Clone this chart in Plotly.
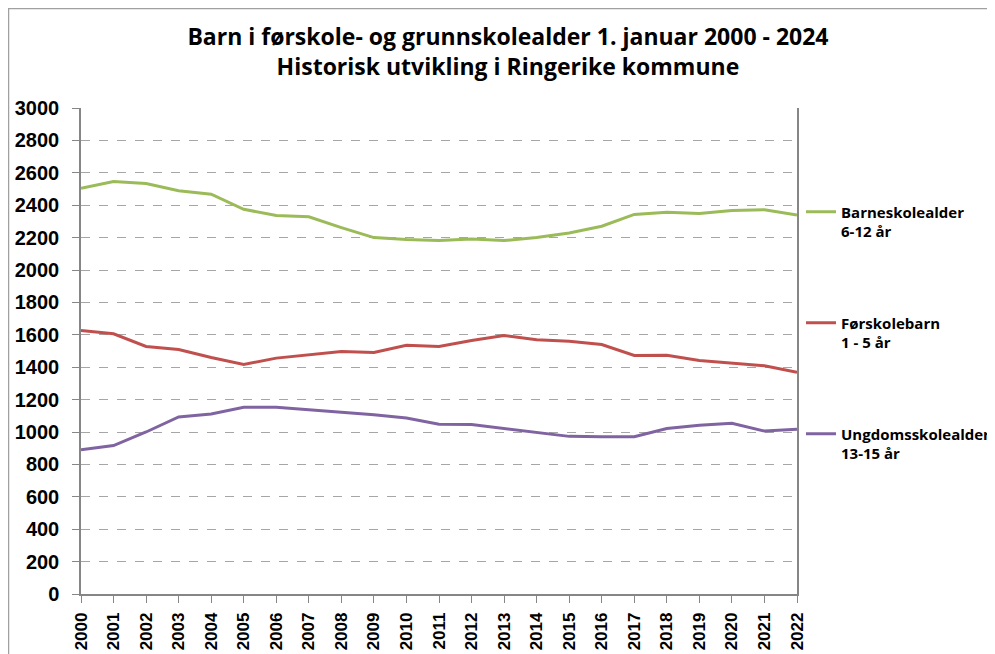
import plotly.graph_objects as go

years = list(range(2000, 2023))

barneskole = [2505, 2546, 2534, 2489, 2468, 2375, 2336, 2328, 2262, 2200, 2188, 2182,
              2192, 2182, 2200, 2229, 2270, 2343, 2357, 2349, 2367, 2372, 2339]
forskole = [1627, 1606, 1528, 1509, 1460, 1417, 1456, 1476, 1497, 1491, 1536, 1528,
            1565, 1596, 1569, 1560, 1540, 1472, 1474, 1441, 1425, 1409, 1369]
ungdomsskole = [891, 916, 1000, 1093, 1111, 1153, 1153, 1138, 1120, 1107, 1087, 1048,
                1046, 1021, 996, 973, 971, 971, 1021, 1041, 1054, 1006, 1017]

series = [
    ("Barneskolealder<br>6-12 år", barneskole, "#9BBB59"),
    ("Førskolebarn<br>1 - 5 år", forskole, "#C0504D"),
    ("Ungdomsskolealder<br>13-15 år", ungdomsskole, "#8064A2"),
]

title_font = "Open Sans"
tick_font = "Liberation Sans"

fig = go.Figure()
for i, (name, vals, color) in enumerate(series):
    fig.add_trace(go.Scatter(
        x=years, y=vals, name=name, mode="lines",
        line=dict(color=color, width=3),
        legendgroup=f"g{i}",
    ))

# page body has an 8px margin; the figure is a bit wider than the window
# so the legend has room and does not squeeze the plot area
fig.update_layout(
    width=1010, height=646,
    margin=dict(l=73, r=221, t=100, b=60),
    paper_bgcolor="white", plot_bgcolor="white",
    title=dict(
        text="<b>Barn i førskole- og grunnskolealder 1. januar 2000 - 2024<br>Historisk utvikling i Ringerike kommune</b>",
        x=0.495, xanchor="center", y=0.9427, yanchor="top",
        font=dict(family=title_font, size=23, color="black"),
    ),
    legend=dict(
        x=1.0056, xanchor="left", y=0.82, yanchor="top",
        font=dict(family=title_font, size=15, color="black", weight="bold"),
        tracegroupgap=69, itemwidth=30, valign="top",
        bgcolor="rgba(0,0,0,0)",
    ),
    xaxis=dict(
        range=[2000, 2022], tickmode="array", tickvals=years,
        ticktext=[str(y) for y in years], tickangle=-90,
        showgrid=False, showline=True, linecolor="#868686", linewidth=1.5,
        ticks="outside", ticklen=7, tickcolor="#868686",
        ticklabelstandoff=3,
        tickfont=dict(family=tick_font, size=17, color="black", weight="bold"),
        zeroline=False, automargin=False,
    ),
    yaxis=dict(
        range=[0, 3000], dtick=200,
        showgrid=True, gridcolor="#A6A6A6", griddash="dash", gridwidth=1,
        showline=True, mirror=True, linecolor="#868686", linewidth=1.5,
        ticks="outside", ticklen=7, tickcolor="#868686",
        ticklabelstandoff=9,
        tickfont=dict(family=tick_font, size=20, color="black", weight="bold"),
        zeroline=False, automargin=False,
    ),
    shapes=[dict(
        type="rect", xref="paper", yref="paper",
        x0=-72.5 / 716, x1=1.3, y0=-0.2, y1=1 + 99.5 / 486,
        line=dict(color="#A0A0A0", width=1.5), fillcolor="rgba(0,0,0,0)",
        layer="below",
    )],
)

fig.write_html("out.html")
